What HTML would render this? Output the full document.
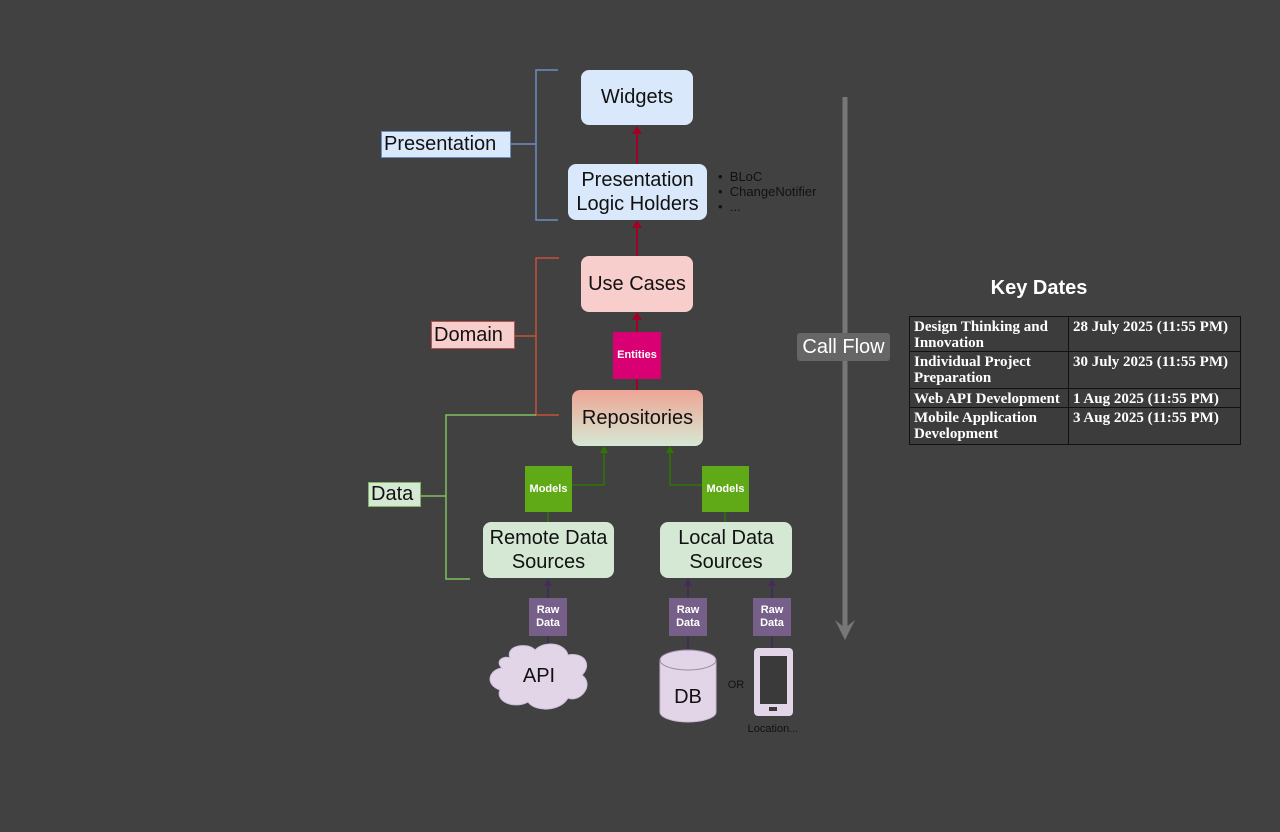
<!DOCTYPE html>
<html><head><style>
body{margin:0;width:1280px;height:832px;background:#414141;position:relative;overflow:hidden;font-family:"Liberation Sans",sans-serif}
.b{position:absolute;box-sizing:border-box;display:flex;align-items:center;justify-content:center;text-align:center;color:#111}
.r{border-radius:8px}
.lab{position:absolute;box-sizing:border-box;display:flex;align-items:center;padding-left:2px;font-size:20px;color:#111}
.sm{font-size:11px;font-weight:bold;color:#fff;line-height:13px}
table{position:absolute;left:909px;top:316px;width:332px;border-collapse:collapse;font-family:"Liberation Serif",serif;font-weight:bold;font-size:15px;color:#fff;background:#3c3c3c}
td{border:1px solid #111;vertical-align:top;padding:2px 4px 0;line-height:16px}
</style></head><body>
<svg width="1280" height="832" style="position:absolute;left:0;top:0">
<g fill="none" stroke-width="1.5">
<path d="M558 70H536V220H558M511 144H536" stroke="#6c8ebf"/>
<path d="M559 258H536V415H559M515 336H536" stroke="#c8503a"/>
<path d="M536 415H446V579H470M421 496H446" stroke="#7fc060"/>
</g>
<g stroke="#a20025" stroke-width="2"><line x1="637" y1="164" x2="637" y2="132"/><line x1="637" y1="256" x2="637" y2="226"/><line x1="637" y1="332" x2="637" y2="318"/><line x1="637" y1="379" x2="637" y2="390"/></g>
<g fill="#a20025"><path d="M632 134L637 126L642 134Z"/><path d="M632 228L637 220L642 228Z"/><path d="M632 320L637 312L642 320Z"/></g>
<g stroke="#2d7600" stroke-width="1.5" fill="none"><path d="M572 485H604V450"/><path d="M702 485H670V450"/><line x1="548" y1="512" x2="548" y2="522"/><line x1="725" y1="512" x2="725" y2="522"/></g>
<g fill="#2d7600"><path d="M600 453L604 446L608 453Z"/><path d="M666 453L670 446L674 453Z"/></g>
<g stroke="#432d57" stroke-width="2"><line x1="548" y1="584" x2="548" y2="598"/><line x1="548" y1="636" x2="548" y2="650"/><line x1="688" y1="584" x2="688" y2="598"/><line x1="688" y1="636" x2="688" y2="650"/><line x1="772" y1="584" x2="772" y2="598"/><line x1="772" y1="636" x2="772" y2="648"/></g>
<g fill="#432d57"><path d="M544 586L548 578L552 586Z"/><path d="M684 586L688 578L692 586Z"/><path d="M768 586L772 578L776 586Z"/></g>
<path d="M510 658C505 645 528 642 535 650C545 640 565 643 568 655C585 652 592 665 582 675C595 685 580 703 568 698C560 712 535 712 528 702C512 710 495 700 500 690C485 685 488 670 502 668C495 662 502 655 510 658Z" fill="#e1d5e7" stroke="#d0c0dc"/>
<path d="M660 660V712A28 10 0 0 0 716 712V660" fill="#e1d5e7" stroke="#c8b8d4"/>
<ellipse cx="688" cy="660" rx="28" ry="10" fill="#e1d5e7" stroke="#9a88a8"/>
<rect x="754" y="648" width="39" height="68" rx="4" fill="#e1d5e7"/>
<rect x="760" y="656" width="27" height="48" fill="#3a3a3a"/>
<rect x="769" y="707" width="8" height="4" fill="#3a3a3a"/>
<line x1="845" y1="97" x2="845" y2="628" stroke="#777" stroke-width="5"/>
<path d="M835 620L845 640L855 620L845 628Z" fill="#777"/>
</svg>
<div class="b r" style="left:581px;top:70px;width:112px;height:55px;background:#dae8fc;font-size:20px">Widgets</div>
<div class="b r" style="left:568px;top:164px;width:139px;height:56px;background:#dae8fc;font-size:20px;line-height:24px">Presentation<br>Logic Holders</div>
<div style="position:absolute;left:718px;top:169px;font-size:13px;color:#111;line-height:15px">•&nbsp; BLoC<br>•&nbsp; ChangeNotifier<br>•&nbsp; ...</div>
<div class="b r" style="left:581px;top:256px;width:112px;height:56px;background:#f8cecc;font-size:20px">Use Cases</div>
<div class="b sm" style="left:613px;top:332px;width:48px;height:47px;background:#d80073">Entities</div>
<div class="b r" style="left:572px;top:390px;width:131px;height:56px;background:linear-gradient(#eea595,#d5e8d4);font-size:20px">Repositories</div>
<div class="b sm" style="left:525px;top:466px;width:47px;height:46px;background:#60a917">Models</div>
<div class="b sm" style="left:702px;top:466px;width:47px;height:46px;background:#60a917">Models</div>
<div class="b r" style="left:483px;top:522px;width:131px;height:56px;background:#d5e8d4;font-size:20px;line-height:24px">Remote Data<br>Sources</div>
<div class="b r" style="left:660px;top:522px;width:132px;height:56px;background:#d5e8d4;font-size:20px;line-height:24px">Local Data<br>Sources</div>
<div class="b sm" style="left:529px;top:598px;width:38px;height:38px;background:#76608a">Raw<br>Data</div>
<div class="b sm" style="left:669px;top:598px;width:38px;height:38px;background:#76608a">Raw<br>Data</div>
<div class="b sm" style="left:753px;top:598px;width:38px;height:38px;background:#76608a">Raw<br>Data</div>
<div class="b" style="left:510px;top:662px;width:58px;height:28px;font-size:20px">API</div>
<div class="b" style="left:660px;top:684px;width:56px;height:26px;font-size:20px">DB</div>
<div class="b" style="left:724px;top:678px;width:24px;height:14px;font-size:11px">OR</div>
<div class="b" style="left:740px;top:722px;width:66px;height:14px;font-size:11px">Location...</div>
<div class="lab" style="left:381px;top:131px;width:130px;height:27px;background:#dae8fc;border:1px solid #6c8ebf">Presentation</div>
<div class="lab" style="left:431px;top:321px;width:84px;height:28px;background:#f8cecc;border:1px solid #b85450">Domain</div>
<div class="lab" style="left:368px;top:482px;width:53px;height:25px;background:#d5e8d4;border:1px solid #82b366">Data</div>
<div class="b" style="left:797px;top:333px;width:93px;height:28px;background:#666;color:#fff;font-size:20px;border-radius:3px">Call Flow</div>
<div style="position:absolute;left:939px;top:277px;width:200px;text-align:center;color:#fff;font-weight:bold;font-size:20px">Key Dates</div>
<table>
<tr style="height:35px"><td style="width:150px">Design Thinking and Innovation</td><td>28 July 2025 (11:55 PM)</td></tr>
<tr style="height:37px"><td>Individual Project Preparation</td><td>30 July 2025 (11:55 PM)</td></tr>
<tr style="height:18px"><td>Web API Development</td><td>1 Aug 2025 (11:55 PM)</td></tr>
<tr style="height:37px"><td>Mobile Application Development</td><td>3 Aug 2025 (11:55 PM)</td></tr>
</table>
</body></html>
